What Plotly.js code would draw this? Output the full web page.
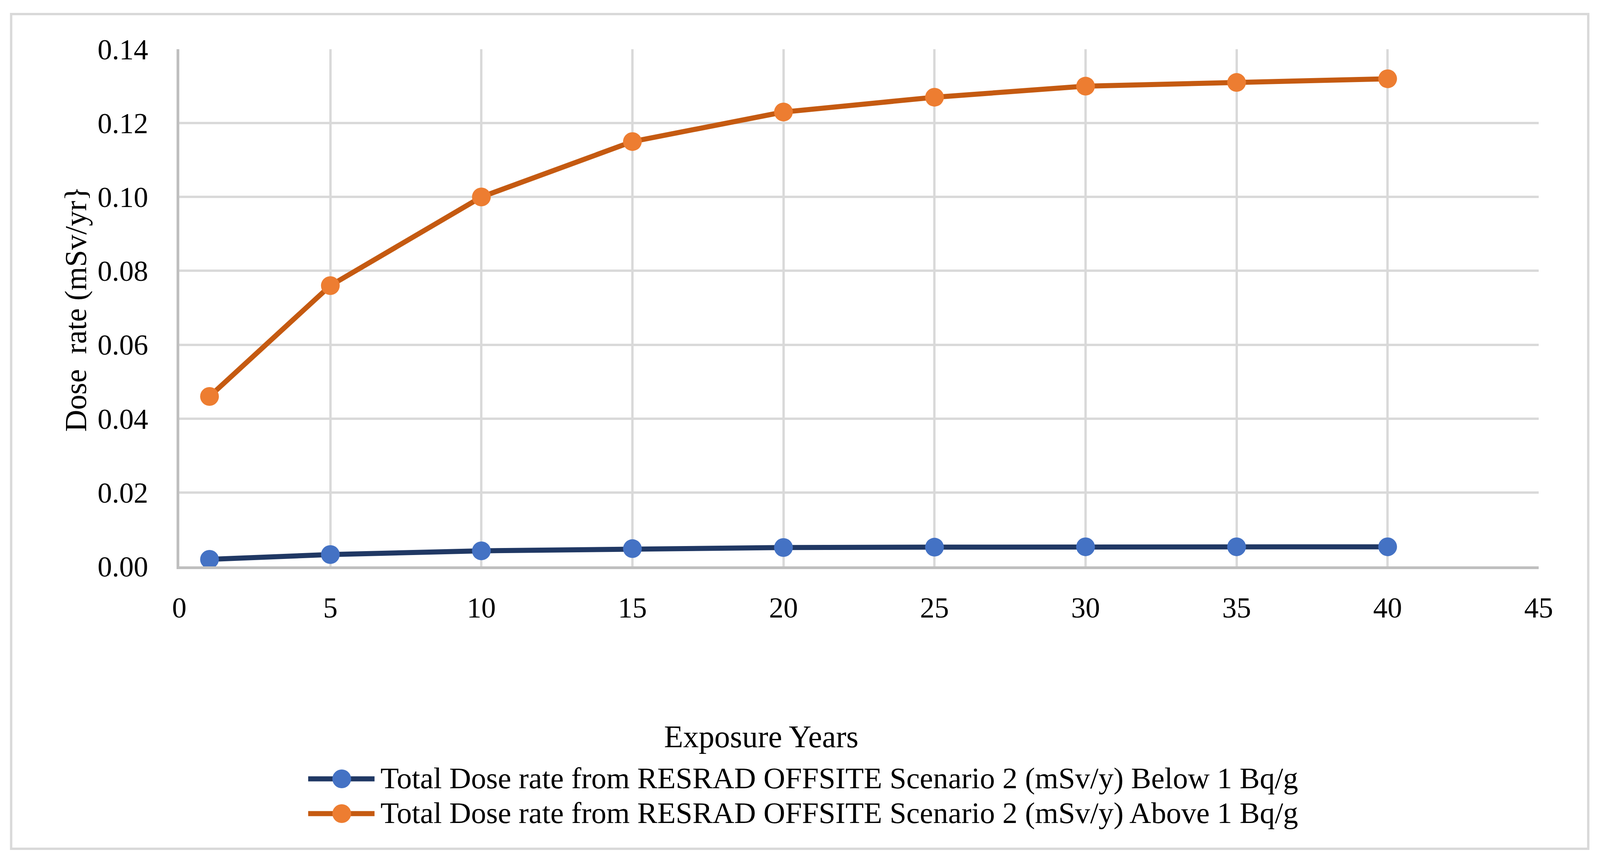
<!DOCTYPE html>
<html>
<head>
<meta charset="utf-8">
<script src="https://cdn.plot.ly/plotly-3.0.1.min.js"></script>
<style>html,body{margin:0;padding:0;background:#fff;overflow:hidden;}#chart{width:4096px;height:2212px;}</style>
</head>
<body>
<div id="chart"></div>
<script>
// ---- data ----
var exposureYears = [1, 5, 10, 15, 20, 25, 30, 35, 40];
var doseBelow = [0.0019, 0.0032, 0.0042, 0.0048, 0.0051, 0.0052, 0.0053, 0.0053, 0.0053];
var doseAbove = [0.046, 0.076, 0.100, 0.115, 0.123, 0.127, 0.130, 0.131, 0.132];
var seriesNames = [
  'Total Dose rate from RESRAD OFFSITE Scenario 2 (mSv/y) Below 1 Bq/g',
  'Total Dose rate from RESRAD OFFSITE Scenario 2 (mSv/y) Above 1 Bq/g'
];
var xTitle = 'Exposure Years';
var yTitle = 'Dose \u00a0rate (mSv/yr}';

// ---- layout geometry (pixels); the visible viewport is 4096 wide ----
var W = Math.min(window.innerWidth || 4096, 4196), H = 2212;
var k = W / 4196;                      // horizontal scale from reference pixel positions
function sx(x) { return x * k; }
var L = sx(470), R = sx(4035), T = 126, B = 1450;
var pw = R - L, ph = B - T;
function px(x) { return (sx(x) - L) / pw; }
function py(y) { return (B - y) / ph; }

var FONT = 'Liberation Serif, Times New Roman, serif';
var lineColors = ['#203864', '#C55A11'];
var markerColors = ['#4472C4', '#ED7D31'];
var seriesData = [doseBelow, doseAbove];

var traces = seriesData.map(function (vals, i) {
  return {
    x: exposureYears, y: vals, name: seriesNames[i],
    type: 'scatter', mode: 'lines+markers',
    line: {color: lineColors[i], width: 13},
    marker: {color: markerColors[i], size: 48},
    showlegend: false, cliponaxis: false
  };
});

var shapes = [
  // outer chart border
  {type: 'rect', xref: 'paper', yref: 'paper', x0: px(29), x1: px(4165), y0: py(36), y1: py(2173),
   line: {color: '#D9D9D9', width: 6}, fillcolor: 'rgba(0,0,0,0)', layer: 'below'}
];
var annotations = [
  {xref: 'paper', yref: 'paper', x: px(1996), y: py(1886), text: xTitle, showarrow: false,
   xanchor: 'center', yanchor: 'middle', font: {family: FONT, size: 80, color: '#000'}},
  {xref: 'paper', yref: 'paper', x: px(197), y: py(791), text: yTitle, showarrow: false, textangle: -90,
   xanchor: 'center', yanchor: 'middle', font: {family: FONT, size: 78, color: '#000'}}
];
var legendRows = [1994, 2083];
seriesNames.forEach(function (nm, i) {
  var yy = legendRows[i];
  shapes.push({type: 'line', xref: 'paper', yref: 'paper', x0: px(808), x1: px(982), y0: py(yy), y1: py(yy),
    line: {color: lineColors[i], width: 13}});
  shapes.push({type: 'circle', xref: 'paper', yref: 'paper', xsizemode: 'pixel', ysizemode: 'pixel',
    xanchor: px(896), yanchor: py(yy), x0: -24, x1: 24, y0: -24, y1: 24,
    fillcolor: markerColors[i], line: {width: 0}});
  annotations.push({xref: 'paper', yref: 'paper', x: px(996), y: py(yy - 2), text: nm, showarrow: false,
    xanchor: 'left', yanchor: 'middle', font: {family: FONT, size: 77, color: '#000'}});
});

var layout = {
  width: W, height: H,
  margin: {l: L, r: W - R, t: T, b: H - B, pad: 0},
  paper_bgcolor: '#fff', plot_bgcolor: '#fff',
  showlegend: false,
  font: {family: FONT, size: 74, color: '#000'},
  xaxis: {
    range: [0, 45], tick0: 0, dtick: 5, tickmode: 'linear',
    showgrid: true, gridcolor: '#D9D9D9', gridwidth: 6,
    showline: true, linecolor: '#BFBFBF', linewidth: 7,
    zeroline: false, ticks: '', ticklabelstandoff: 35,
    tickfont: {family: FONT, size: 74, color: '#000'}
  },
  yaxis: {
    range: [0, 0.14], tick0: 0, dtick: 0.02, tickmode: 'linear', tickformat: '.2f',
    showgrid: true, gridcolor: '#D9D9D9', gridwidth: 6,
    showline: true, linecolor: '#BFBFBF', linewidth: 7,
    zeroline: false, ticks: '', ticklabelstandoff: 58,
    tickfont: {family: FONT, size: 74, color: '#000'}
  },
  shapes: shapes,
  annotations: annotations
};

document.getElementById('chart').style.width = W + 'px';
Plotly.newPlot('chart', traces, layout, {displayModeBar: false, staticPlot: true});
</script>
</body>
</html>
